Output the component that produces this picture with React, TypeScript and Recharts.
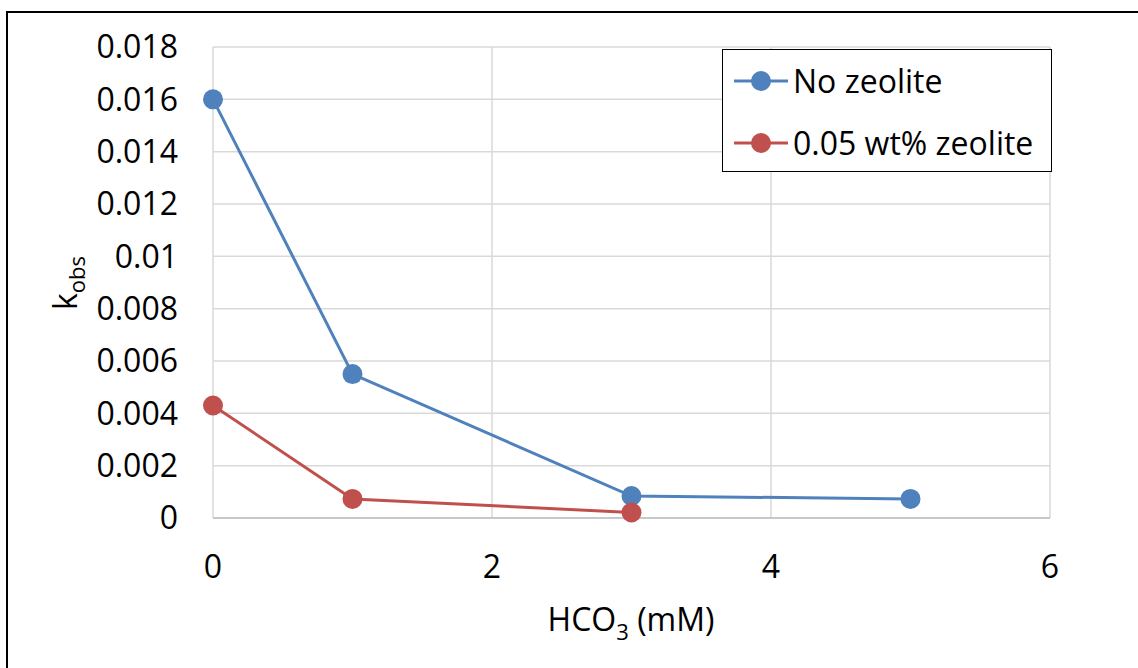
import { LineChart, Line, XAxis, YAxis, CartesianGrid } from 'recharts'

const hco3NoZeolite = [0, 1, 3, 5]
const kNoZeolite = [0.016, 0.0055, 0.00084, 0.00073]
const hco3Zeolite = [0, 1, 3]
const kZeolite = [0.0043, 0.00073, 0.00021]

const xTicks = [0, 2, 4, 6]
const yTicks = [0, 0.002, 0.004, 0.006, 0.008, 0.01, 0.012, 0.014, 0.016, 0.018]

const seriesNames = ['No zeolite', '0.05 wt% zeolite']
const seriesColors = ['#4F81BD', '#C0504D']

const FONT = '"Open Sans", "Liberation Sans", sans-serif'

const noZeoliteData = hco3NoZeolite.map((x, i) => ({ x, k: kNoZeolite[i] }))
const zeoliteData = hco3Zeolite.map((x, i) => ({ x, k: kZeolite[i] }))

function LegendBox() {
  return (
    <div
      style={{
        position: 'absolute',
        left: 722,
        top: 49,
        width: 330,
        height: 123,
        boxSizing: 'border-box',
        border: '1.5px solid #000',
        background: '#fff',
        fontFamily: FONT,
      }}
    >
      {seriesNames.map((name, i) => (
        <div
          key={name}
          style={{
            position: 'absolute',
            left: 10,
            top: 31 + i * 62 - 20,
            height: 40,
            display: 'flex',
            alignItems: 'center',
          }}
        >
          <svg width={56} height={24} style={{ display: 'block' }}>
            <line x1={1} y1={12} x2={55} y2={12} stroke={seriesColors[i]} strokeWidth={3} />
            <circle cx={28} cy={12} r={10} fill={seriesColors[i]} />
          </svg>
          <span style={{ fontSize: 32, color: '#000', marginLeft: 4, lineHeight: '40px', whiteSpace: 'nowrap' }}>
            {name}
          </span>
        </div>
      ))}
    </div>
  )
}

export default function App() {
  return (
    <div style={{ position: 'absolute', left: 0, top: 0, width: 1138, height: 668, background: '#fff', overflow: 'hidden' }}>
      {/* outer chart frame (left and top edges are visible) */}
      <div style={{ position: 'absolute', left: 6, top: 11, width: 2, height: 657, background: '#000' }} />
      <div style={{ position: 'absolute', left: 6, top: 11, width: 1132, height: 2, background: '#000' }} />

      <LineChart width={1138} height={668} margin={{ top: 47, right: 88, left: 0, bottom: 0 }}>
        <CartesianGrid stroke="#D9D9D9" strokeWidth={1.5} />
        <XAxis
          type="number"
          dataKey="x"
          domain={[0, 6]}
          ticks={xTicks}
          height={150}
          tickLine={false}
          tickMargin={31}
          axisLine={{ stroke: '#BFBFBF', strokeWidth: 1.5 }}
          tick={{ fontSize: 32, fill: '#000', fontFamily: FONT }}
          label={{
            content: () => (
              <text x={631} y={631} textAnchor="middle" fontSize={32} fill="#000" fontFamily={FONT}>
                <tspan>HCO</tspan>
                <tspan dy={9} fontSize={22}>3</tspan>
                <tspan dy={-9}> (mM)</tspan>
              </text>
            ),
          }}
        />
        <YAxis
          type="number"
          dataKey="k"
          domain={[0, 0.018]}
          ticks={yTicks}
          width={213}
          axisLine={false}
          tickLine={false}
          tickMargin={29}
          tickFormatter={(v: number) => String(parseFloat(v.toFixed(3)))}
          tick={{ fontSize: 32, fill: '#000', fontFamily: FONT }}
          label={{
            content: () => (
              <text transform="rotate(-90)" x={-283} y={77} textAnchor="middle" fontSize={32} fill="#000" fontFamily={FONT}>
                <tspan>k</tspan>
                <tspan dy={8} fontSize={22}>obs</tspan>
              </text>
            ),
          }}
        />
        <Line
          data={noZeoliteData}
          dataKey="k"
          name={seriesNames[0]}
          type="linear"
          stroke={seriesColors[0]}
          strokeWidth={3}
          dot={{ r: 10, fill: seriesColors[0], stroke: seriesColors[0], strokeWidth: 0 }}
          activeDot={false}
          isAnimationActive={false}
        />
        <Line
          data={zeoliteData}
          dataKey="k"
          name={seriesNames[1]}
          type="linear"
          stroke={seriesColors[1]}
          strokeWidth={3}
          dot={{ r: 10, fill: seriesColors[1], stroke: seriesColors[1], strokeWidth: 0 }}
          activeDot={false}
          isAnimationActive={false}
        />
      </LineChart>

      <LegendBox />
    </div>
  )
}
